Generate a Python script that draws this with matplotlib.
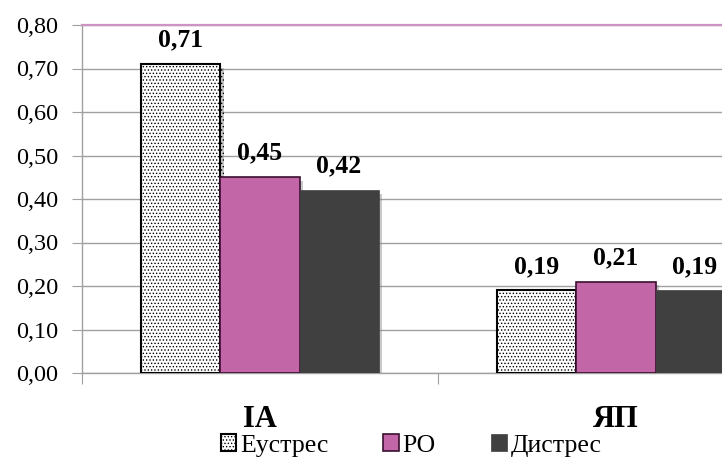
import matplotlib
matplotlib.use("Agg")
import matplotlib.pyplot as plt
import matplotlib.patheffects as pe
from matplotlib.font_manager import FontProperties
import numpy as np

categories = ["IA", "ЯП"]
series_names = ["Еустрес", "РО", "Дистрес"]
eustres = [0.71, 0.19]
ro = [0.45, 0.21]
distres = [0.42, 0.19]
y_ticks = [0.0, 0.1, 0.2, 0.3, 0.4, 0.5, 0.6, 0.7, 0.8]

FAM = 'Liberation Serif'
plt.rcParams['font.family'] = FAM
plt.rcParams['hatch.linewidth'] = 0.6

fig = plt.figure(figsize=(7.22, 4.57), dpi=100)
ax = fig.add_axes([82/722, (457-373)/457, 712/722, 348/457])

x = np.arange(len(categories))
w = 0.222
styles = [
    dict(facecolor='white', edgecolor='black', hatch='.....', linewidth=1.5),
    dict(facecolor='#c266a8', edgecolor='#3a1030', linewidth=1.2),
    dict(facecolor='#404040', edgecolor='#404040', linewidth=0.5),
]
shadow = [pe.SimplePatchShadow(offset=(2.5, -2.5), shadow_rgbFace='#888888', alpha=0.45), pe.Normal()]
handles = []
for i, (vals, st, name) in enumerate(zip([eustres, ro, distres], styles, series_names)):
    bars = ax.bar(x + (i - 1) * w, vals, w, label=name, zorder=3, **st)
    for b in bars:
        b.set_path_effects(shadow)
    handles.append(bars)
    for xi, v in zip(x + (i - 1) * w, vals):
        ax.annotate(f"{v:.2f}".replace('.', ','), (xi, v), xytext=(0, 9),
                    textcoords='offset points', ha='center', va='bottom',
                    fontsize=18.5, fontweight='bold', family=FAM, zorder=5)

ax.set_xlim(-0.5, 1.5)
ax.set_ylim(0, 0.8)
ax.set_yticks(y_ticks)
ax.set_yticklabels([f"{t:.2f}".replace('.', ',') for t in y_ticks], fontsize=17.5, family=FAM)
ax.yaxis.grid(True, color='#a0a0a0', linewidth=1.0, zorder=0)
ax.set_axisbelow(True)

ax.set_xticks([-0.5, 0.5, 1.5])
ax.set_xticklabels([])
ax.set_xticks(x, minor=True)
ax.set_xticklabels(categories, minor=True, fontsize=22, fontweight='bold', family=FAM)
ax.tick_params(axis='x', which='major', length=8, color='#a0a0a0', direction='out')
ax.tick_params(axis='x', which='minor', length=0, pad=23)
ax.tick_params(axis='y', length=7, color='#a0a0a0', pad=10, labelcolor='black')

for s in ['left', 'bottom']:
    ax.spines[s].set_color('#a0a0a0')
    ax.spines[s].set_linewidth(1.0)
ax.spines['right'].set_visible(False)
ax.spines['top'].set_color('#cc93c4')
ax.spines['top'].set_linewidth(1.6)
ax.spines['top'].set_zorder(4)

leg = fig.legend(handles=handles, labels=series_names, loc='center',
                 bbox_to_anchor=(411/722, 11.5/457), bbox_transform=fig.transFigure,
                 ncol=3, frameon=False, prop=FontProperties(family=FAM, size=18.5),
                 handlelength=0.6, handleheight=0.6, handletextpad=0.15,
                 columnspacing=2.15, borderpad=0)
for h in leg.legend_handles:
    h.set_path_effects([])

fig.savefig("out.png", dpi=100)
